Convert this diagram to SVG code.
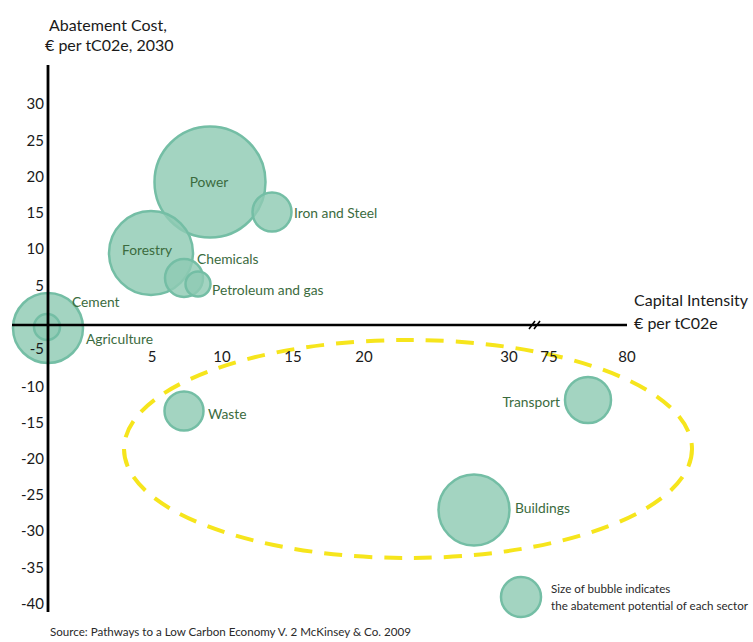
<svg xmlns="http://www.w3.org/2000/svg" width="753" height="642" viewBox="0 0 753 642">
<style>
text{font-family:Lato,"Liberation Sans",sans-serif;}
.ax{font-size:16px;fill:#1a1a1a;}
.yl{font-size:15px;fill:#1a1a1a;text-anchor:end;}
.xl{font-size:15px;fill:#1a1a1a;text-anchor:middle;}
.bl{font-size:13.8px;fill:#3b6b3e;}
.b{fill:#8fcbb3;fill-opacity:0.82;stroke:#74bea5;stroke-width:2.5;}
.sm{font-size:11.6px;fill:#2a2a2a;}
</style>
<rect width="753" height="642" fill="#ffffff"/>
<g id="ellipse">
<ellipse cx="408" cy="449" rx="284" ry="109" fill="none" stroke="#f6e51c" stroke-width="4" stroke-dasharray="18 12"/>
</g>
<g id="bubbles">
<g id="cement"><circle class="b" cx="48" cy="328" r="35"/></g>
<g id="agriculture"><circle class="b" cx="47" cy="327" r="13"/></g>
<g id="power"><circle class="b" cx="210" cy="182" r="55.5"/></g>
<g id="forestry"><circle class="b" cx="151" cy="253" r="42"/></g>
<g id="iron"><circle class="b" cx="272" cy="212" r="19.5"/></g>
<g id="chemicals"><circle class="b" cx="184" cy="278" r="19"/></g>
<g id="petroleum"><circle class="b" cx="198" cy="284" r="12.5"/></g>
<g id="waste"><circle class="b" cx="184" cy="411" r="19.5"/></g>
<g id="transport"><circle class="b" cx="588" cy="400" r="23"/></g>
<g id="buildings"><circle class="b" cx="474" cy="510" r="35.5"/></g>
<g id="legend"><circle class="b" cx="521" cy="597" r="20"/></g>
</g>
<g id="axes" stroke="#000" stroke-width="2.5" fill="none">
<line x1="48" y1="65" x2="48" y2="612" stroke-width="2.8"/>
<line x1="12" y1="325" x2="627" y2="325"/>
<line x1="529" y1="329" x2="535" y2="321" stroke-width="1.5"/>
<line x1="534" y1="329" x2="540" y2="321" stroke-width="1.5"/>
</g>
<g id="labels">
<text class="ax" x="49" y="31">Abatement Cost,</text>
<text class="ax" x="45" y="51">€ per tC02e, 2030</text>
<text class="ax" x="634" y="306">Capital Intensity</text>
<text class="ax" x="634" y="329">€ per tC02e</text>
<text class="yl" x="44" y="109">30</text>
<text class="yl" x="44" y="146">25</text>
<text class="yl" x="44" y="182">20</text>
<text class="yl" x="44" y="218">15</text>
<text class="yl" x="44" y="254">10</text>
<text class="yl" x="44" y="291">5</text>
<text class="yl" x="44" y="354">-5</text>
<text class="yl" x="44" y="392">-10</text>
<text class="yl" x="44" y="428">-15</text>
<text class="yl" x="44" y="464">-20</text>
<text class="yl" x="44" y="500">-25</text>
<text class="yl" x="44" y="536">-30</text>
<text class="yl" x="44" y="573">-35</text>
<text class="yl" x="44" y="609">-40</text>
<text class="xl" x="152" y="362">5</text>
<text class="xl" x="222" y="362">10</text>
<text class="xl" x="293" y="362">15</text>
<text class="xl" x="364" y="362">20</text>
<text class="xl" x="509" y="362">30</text>
<text class="xl" x="549" y="362">75</text>
<text class="xl" x="627" y="362">80</text>
<text class="bl" x="209" y="187" text-anchor="middle">Power</text>
<text class="bl" x="294" y="218">Iron and Steel</text>
<text class="bl" x="122" y="255">Forestry</text>
<text class="bl" x="197" y="264">Chemicals</text>
<text class="bl" x="212" y="295">Petroleum and gas</text>
<text class="bl" x="72" y="307">Cement</text>
<text class="bl" x="86" y="344">Agriculture</text>
<text class="bl" x="208" y="419">Waste</text>
<text class="bl" x="560" y="407" text-anchor="end">Transport</text>
<text class="bl" x="515" y="513">Buildings</text>
<text class="sm" x="551" y="593">Size of bubble indicates</text>
<text class="sm" x="551" y="610">the abatement potential of each sector</text>
<text class="sm" x="50" y="636">Source: Pathways to a Low Carbon Economy V. 2 McKinsey &amp; Co. 2009</text>
</g>
</svg>
